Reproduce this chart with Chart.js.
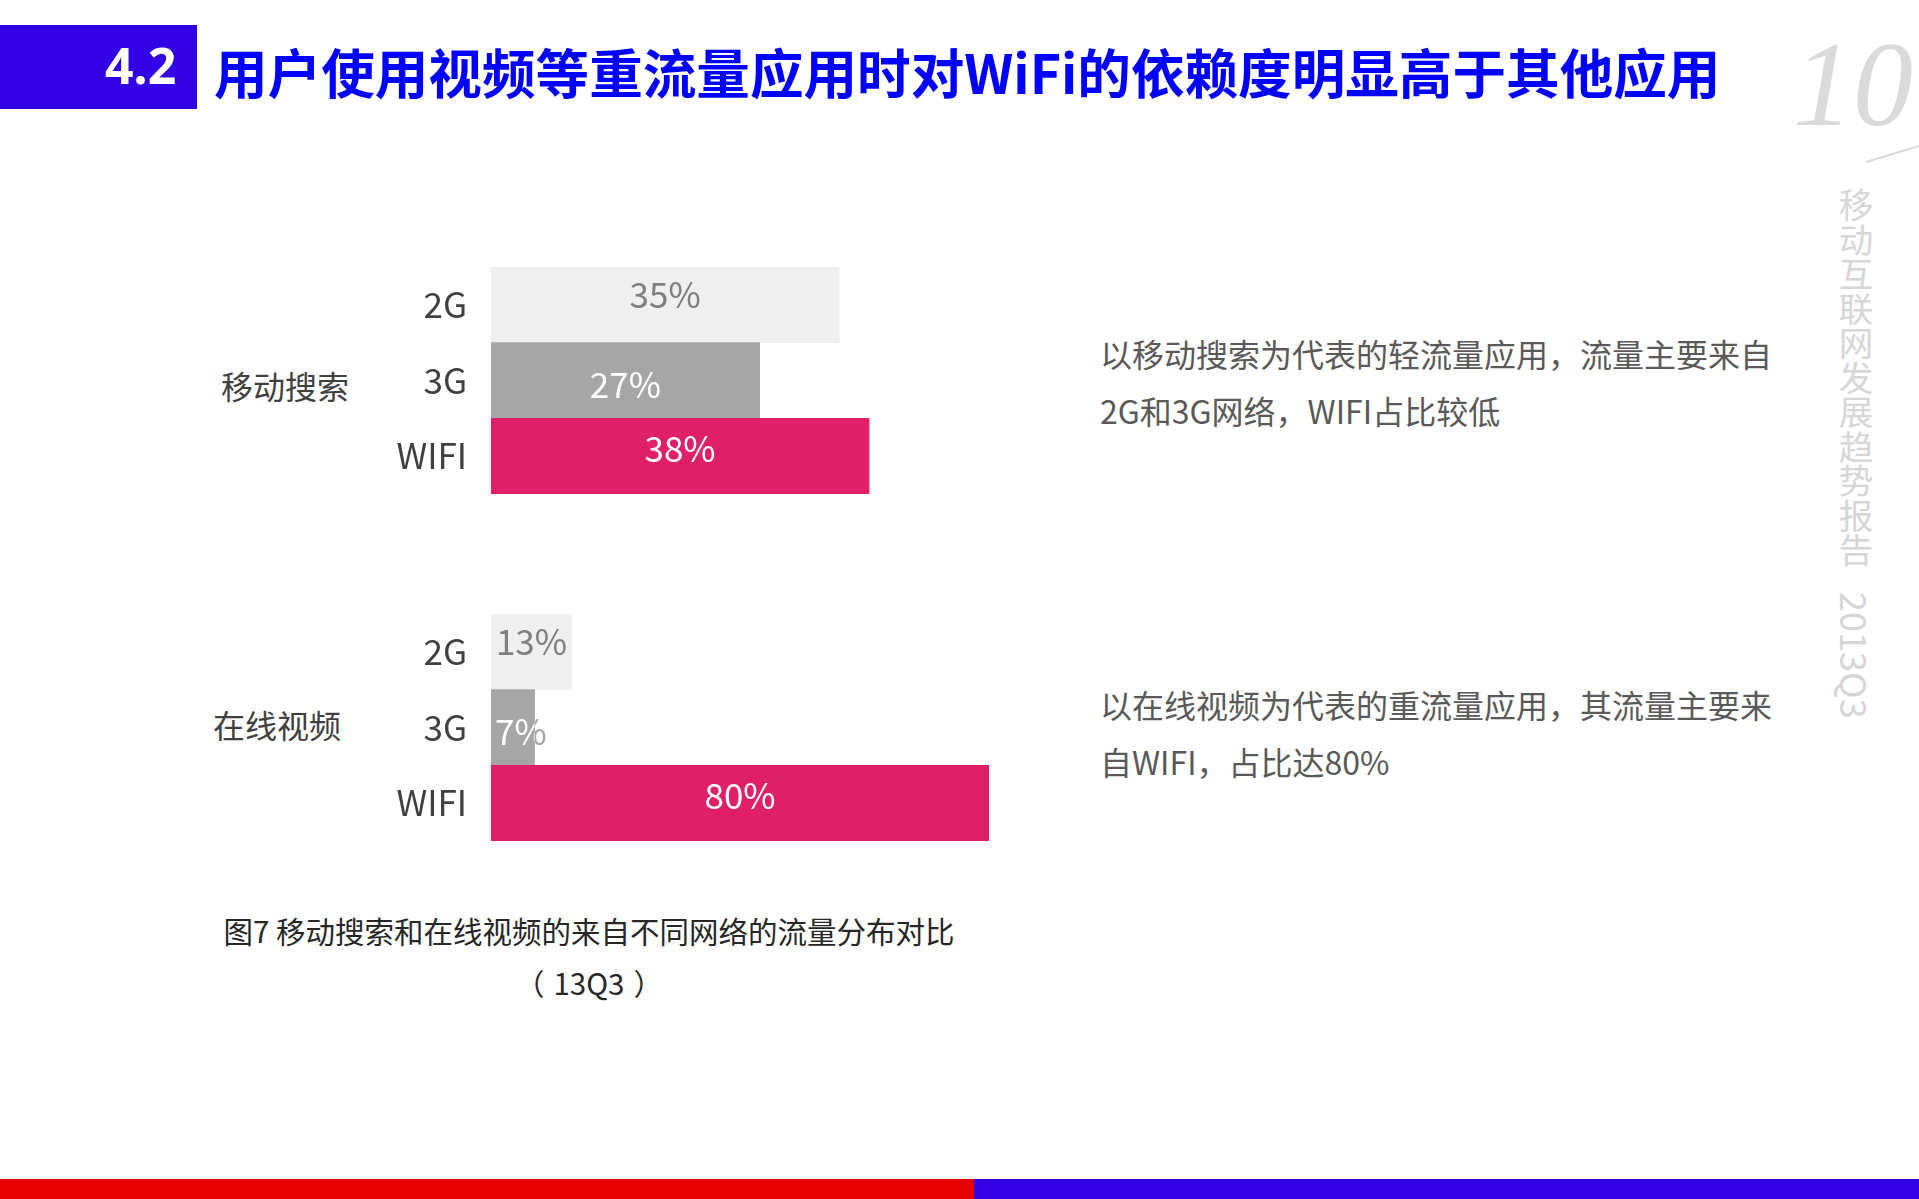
<!DOCTYPE html>
<html>
<head>
<meta charset="utf-8">
<script src="https://cdn.jsdelivr.net/npm/chart.js@4.4.0/dist/chart.umd.min.js"></script>
<style>
  html, body { margin:0; padding:0; background:#fff; }
  body { width:1919px; height:1199px; position:relative; overflow:hidden;
         font-family:"Noto Sans CJK SC","Noto Sans",sans-serif; }
  .abs { position:absolute; white-space:nowrap; }
  #tblock { left:0; top:25px; width:197px; height:84px; background:#3300e6; }
  #tnum { left:105px; top:31px; height:84px; line-height:84px; color:#fff; font:bold 50px "Noto Sans",sans-serif; }
  #title { left:214px; top:29px; line-height:84px; font-size:53.6px; font-weight:bold; color:#0000ff; }
  #pg { left:1793px; top:20px; font:italic 120px "Liberation Serif",serif; color:#dadada; line-height:130px; }
  .vt { left:1836px; writing-mode:vertical-rl; color:#d6d6d6; line-height:40px; }
  .para { left:1100px; font-size:32px; color:#595959; line-height:57px; }
  .cat { font-size:32px; color:#404040; line-height:40px; }
  .cap { font-size:29.5px; color:#262626; line-height:40px; text-align:center; width:900px; left:139px; }
  #barL { left:0; top:1179px; width:974px; height:20px; background:#e60000; }
  #barR { left:974px; top:1179px; width:945px; height:20px; background:#3300e6; }
  canvas { position:absolute; }
</style>
</head>
<body>
<div id="tblock" class="abs"></div>
<div id="tnum" class="abs">4.2</div>
<div id="title" class="abs">用户使用视频等重流量应用时对WiFi的依赖度明显高于其他应用</div>
<div id="pg" class="abs">10</div>
<svg class="abs" style="left:1850px;top:140px" width="69" height="30"><line x1="16" y1="22" x2="69" y2="6" stroke="#d9d9d9" stroke-width="2"/></svg>
<div class="abs vt" style="top:188px;font-size:34.5px">移动互联网发展趋势报告</div>
<div class="abs vt" style="top:592px;font-size:36px">2013Q3</div>

<div class="abs para" style="top:325px">以移动搜索为代表的轻流量应用，流量主要来自<br>2G和3G网络，WIFI占比较低</div>
<div class="abs para" style="top:676px">以在线视频为代表的重流量应用，其流量主要来<br>自WIFI，占比达80%</div>

<div class="abs cat" style="left:221px;top:365px">移动搜索</div>
<div class="abs cat" style="left:213px;top:704px">在线视频</div>

<canvas id="c1" width="528" height="347" style="left:361px;top:207px;width:528px;height:347px"></canvas>
<canvas id="c2" width="628" height="347" style="left:361px;top:554px;width:628px;height:347px"></canvas>

<div class="abs cap" style="top:910px">图7 移动搜索和在线视频的来自不同网络的流量分布对比</div>
<div class="abs cap" style="top:962px">（<span style="margin:0 9px">13Q3</span>）</div>

<div id="barL" class="abs"></div>
<div id="barR" class="abs"></div>

<script>
// ---- data ----
const networks = ['2G', '3G', 'WIFI'];
const searchShare = [35, 27, 38];   // 移动搜索 traffic share (%)
const videoShare  = [13, 7, 80];    // 在线视频 traffic share (%)
const searchAxisMax = 40;
const videoAxisMax  = 80;

const FONT = '"Noto Sans CJK SC","Noto Sans",sans-serif';
const barFill   = ['#efefef', '#a6a6a6', '#e01f69'];
const labelFill = ['#7f7f7f', '#ffffff', '#ffffff'];
const labelDy   = [-10, 4, -7];

const valueLabels = {
  id: 'valueLabels',
  afterDatasetsDraw(chart) {
    const ctx = chart.ctx;
    const meta = chart.getDatasetMeta(0);
    const data = chart.data.datasets[0].data;
    ctx.save();
    ctx.textAlign = 'center';
    ctx.textBaseline = 'middle';
    ctx.font = '35px ' + FONT;
    meta.data.forEach((el, i) => {
      const txt = data[i] + '%';
      const left = Math.min(el.x, el.base);
      const barW = Math.abs(el.x - el.base);
      const w = ctx.measureText(txt).width;
      const y = el.y + labelDy[i];
      if (w <= barW - 6) {
        ctx.fillStyle = labelFill[i];
        ctx.fillText(txt, (el.x + el.base) / 2, y);
      } else {
        // label wider than its bar: show the overflow in the bar colour,
        // the part over the bar in the label colour
        const x = left + 4 + w / 2;
        ctx.fillStyle = barFill[i];
        ctx.fillText(txt, x, y);
        ctx.save();
        ctx.beginPath();
        ctx.rect(left, el.y - el.height / 2, barW, el.height);
        ctx.clip();
        ctx.fillStyle = labelFill[i];
        ctx.fillText(txt, x, y);
        ctx.restore();
      }
    });
    ctx.restore();
  }
};

function makeChart(id, values, xMax) {
  return new Chart(document.getElementById(id), {
    type: 'bar',
    data: {
      labels: networks,
      datasets: [{
        data: values,
        backgroundColor: barFill,
        borderWidth: 0,
        barPercentage: 1,
        categoryPercentage: 1
      }]
    },
    options: {
      indexAxis: 'y',
      responsive: false,
      maintainAspectRatio: false,
      animation: false,
      layout: { padding: { top: 60, bottom: 60, left: 0, right: 0 } },
      plugins: { legend: { display: false }, tooltip: { enabled: false } },
      scales: {
        x: { display: false, min: 0, max: xMax },
        y: {
          grid: { display: false, drawTicks: false },
          border: { display: false },
          ticks: { padding: 24, color: '#404040', font: { family: FONT, size: 35 } },
          afterFit(scale) { scale.width = 130; }
        }
      }
    },
    plugins: [valueLabels]
  });
}

makeChart('c1', searchShare, searchAxisMax);
makeChart('c2', videoShare, videoAxisMax);
</script>
</body>
</html>
